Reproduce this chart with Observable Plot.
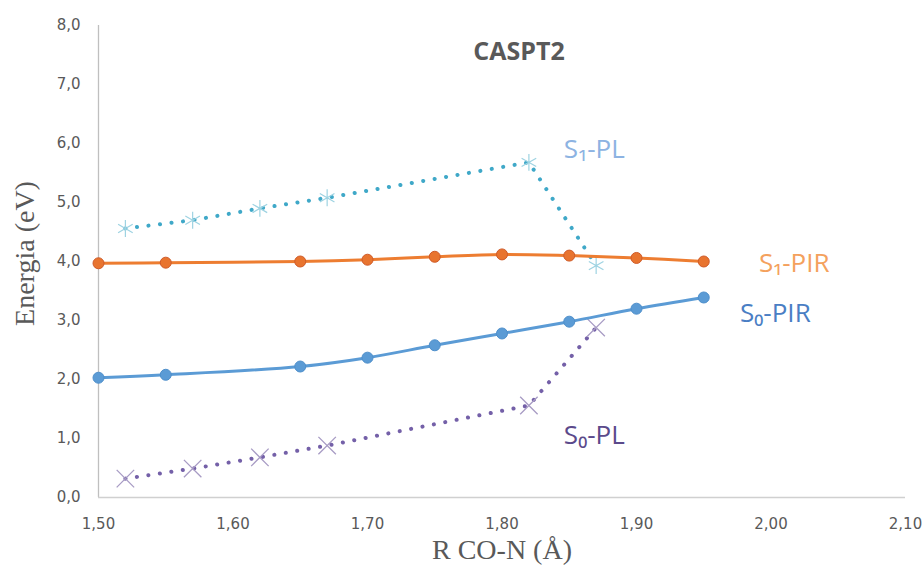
<!DOCTYPE html>
<html><head><meta charset="utf-8">
<script src="https://cdn.jsdelivr.net/npm/d3@7"></script>
<script src="https://cdn.jsdelivr.net/npm/@observablehq/plot@0.6"></script>
<style>body{margin:0;background:#fff;} svg{display:block;}</style>
</head><body><div id="chart"></div>
<script>
const xPIR = [1.50, 1.55, 1.65, 1.70, 1.75, 1.80, 1.85, 1.90, 1.95];
const s1PIR = [3.97, 3.98, 4.00, 4.03, 4.08, 4.12, 4.10, 4.06, 4.00];
const s0PIR = [2.03, 2.08, 2.22, 2.37, 2.58, 2.78, 2.98, 3.20, 3.39];
const xPL = [1.52, 1.57, 1.62, 1.67, 1.82, 1.87];
const s1PL = [4.56, 4.70, 4.90, 5.08, 5.68, 3.93];
const s0PL = [0.32, 0.49, 0.68, 0.88, 1.56, 2.88];
const xTicks = [1.5, 1.6, 1.7, 1.8, 1.9, 2.0, 2.1];
const yTicks = [0, 1, 2, 3, 4, 5, 6, 7, 8];
const labels = ["S₁-PL", "S₁-PIR", "S₀-PIR", "S₀-PL"];
const labelX = [1.846, 1.991, 1.977, 1.846];
const labelY = [5.90, 3.97, 3.11, 1.05];
const labelColors = ["#8DB3E2", "#F4A15D", "#4A7EC4", "#5B4A8B"];
const title = "CASPT2";

const pir1 = xPIR.map((x, i) => ({x, y: s1PIR[i]}));
const pir0 = xPIR.map((x, i) => ({x, y: s0PIR[i]}));
const pl1 = xPL.map((x, i) => ({x, y: s1PL[i]}));
const pl0 = xPL.map((x, i) => ({x, y: s0PL[i]}));
const lab = labels.map((t, i) => ({t, x: labelX[i], y: labelY[i], c: labelColors[i]}));

const tickFont = "'DejaVu Sans', sans-serif";
const chart = Plot.plot({
  width: 922, height: 574,
  marginLeft: 98, marginRight: 17, marginTop: 25, marginBottom: 77,
  x: {domain: [1.5, 2.1]},
  y: {domain: [0, 8]},
  style: {fontFamily: tickFont, background: "#fff"},
  marks: [
    Plot.ruleX([1.5], {stroke: "#BFBFBF", strokeWidth: 1.3}),
    Plot.ruleY([0], {stroke: "#D0D0D0", strokeWidth: 1.3}),
    Plot.axisY({ticks: yTicks, tickSize: 0, tickPadding: 18, fontSize: 15, fill: "#595959",
      tickFormat: d => d.toFixed(1).replace(".", ","), label: null}),
    Plot.axisX({ticks: xTicks, tickSize: 0, tickPadding: 21, fontSize: 15, fill: "#595959",
      tickFormat: d => d.toFixed(2).replace(".", ","), label: null}),
    Plot.text(["Energia (eV)"], {frameAnchor: "left", textAnchor: "middle", dx: -73, dy: -8, rotate: -90, fontSize: 28,
      fontFamily: "'Liberation Serif', serif", fill: "#595959"}),
    Plot.text(["R CO-N (Å)"], {frameAnchor: "bottom", dy: 61, fontSize: 28,
      fontFamily: "'Liberation Serif', serif", fill: "#595959"}),
    Plot.text([title], {frameAnchor: "top", dx: 17, dy: 17, fontSize: 25, fontWeight: "bold",
      fill: "#595959", fontFamily: "'Open Sans', sans-serif"}),
    // S1-PL dotted
    Plot.line(pl1, {x: "x", y: "y", stroke: "#3FA8C8", strokeWidth: 4, strokeDasharray: "0.1,11.5", strokeLinecap: "round"}),
    Plot.dot(pl1, {x: "x", y: "y", symbol: "asterisk", r: 8, stroke: "#9ED3E2", strokeWidth: 1.2}),
    // S0-PL dotted
    Plot.line(pl0, {x: "x", y: "y", stroke: "#7460A8", strokeWidth: 4, strokeDasharray: "0.1,11.5", strokeLinecap: "round"}),
    Plot.dot(pl0, {x: "x", y: "y", symbol: "times", r: 8, stroke: "#A79BC4", strokeWidth: 1.3}),
    // S1-PIR
    Plot.line(pir1, {x: "x", y: "y", stroke: "#ED7D31", strokeWidth: 3, curve: "catmull-rom"}),
    Plot.dot(pir1, {x: "x", y: "y", r: 5.5, fill: "#E8742F", stroke: "#CF5A28", strokeWidth: 1}),
    // S0-PIR
    Plot.line(pir0, {x: "x", y: "y", stroke: "#5B9BD5", strokeWidth: 3, curve: "catmull-rom"}),
    Plot.dot(pir0, {x: "x", y: "y", r: 5.5, fill: "#5B9BD5", stroke: "#4E8FCB", strokeWidth: 1}),
    // labels
    Plot.text(lab, {x: "x", y: "y", text: "t", fill: "c", textAnchor: "start", fontSize: 26,
      fontFamily: "'Open Sans', 'Noto Sans', sans-serif"})
  ]
});
document.getElementById("chart").appendChild(chart);
</script></body></html>
